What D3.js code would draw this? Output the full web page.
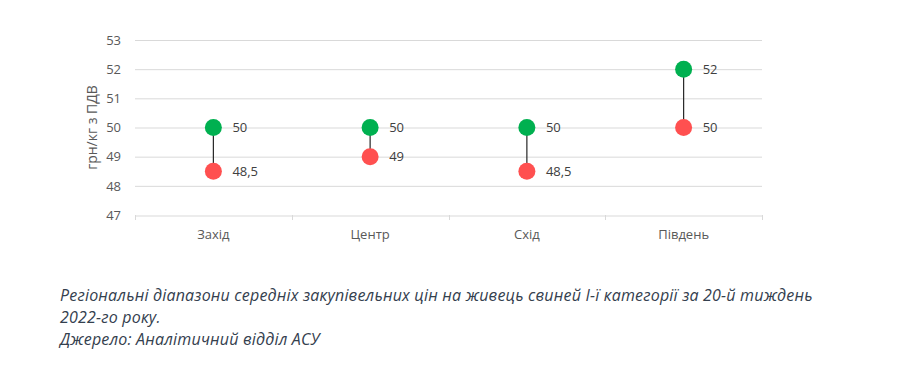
<!DOCTYPE html>
<html>
<head>
<meta charset="utf-8">
<script src="https://cdn.jsdelivr.net/npm/d3@7"></script>
<style>
  body { margin: 0; background: #fff; }
  .caption { position: absolute; left: 60px; top: 284px; font-family: "Open Sans", sans-serif;
    font-style: italic; font-size: 16px; letter-spacing: 0.2px; line-height: 22px; color: #34404e; white-space: nowrap; }
</style>
</head>
<body>
<div id="chart"></div>
<div class="caption">Регіональні діапазони середніх закупівельних цін на живець свиней І-ї категорії за 20-й тиждень<br>2022-го року.<br>Джерело: Аналітичний відділ АСУ</div>
<script>
var regions = ['Захід', 'Центр', 'Схід', 'Південь'];
var maxPrice = [50, 50, 50, 52];
var minPrice = [48.5, 49, 48.5, 50];
var yTicks = [47, 48, 49, 50, 51, 52, 53];

var svg = d3.select('#chart').append('svg')
    .attr('width', 897).attr('height', 280)
    .style('font-family', '"Segoe UI", "Open Sans", sans-serif');

var x = d3.scaleBand().domain(regions).range([135, 762]);
var y = d3.scaleLinear().domain([47, 53]).range([215, 40]);

function fmt (v) { return String(v).replace('.', ','); }

// gridlines
svg.selectAll('line.grid').data(yTicks.slice(1)).enter().append('line')
    .attr('x1', 135).attr('x2', 762)
    .attr('y1', function (d) { return y(d) + 0.5; })
    .attr('y2', function (d) { return y(d) + 0.5; })
    .attr('stroke', '#d9d9d9').attr('stroke-width', 1);

// y axis labels
var yAxis = svg.append('g').attr('transform', 'translate(129,0)')
    .call(d3.axisLeft(y).tickValues(yTicks).tickFormat(d3.format('d')).tickSize(0).tickPadding(8));
yAxis.select('.domain').remove();
yAxis.selectAll('text').attr('fill', '#595959').attr('font-size', 13)
    .style('font-family', '"Segoe UI", "Open Sans", sans-serif');

// x axis
var xAxis = svg.append('g').attr('transform', 'translate(0,' + (y(47) + 0.5) + ')')
    .call(d3.axisBottom(x).tickSize(0).tickPadding(14));
xAxis.select('.domain').attr('stroke', '#d9d9d9');
xAxis.selectAll('text').attr('fill', '#595959').attr('font-size', 13)
    .style('font-family', '"Segoe UI", "Open Sans", sans-serif');
var bounds = regions.map(function (r) { return x(r); }).concat([x.range()[1]]);
svg.selectAll('line.xtick').data(bounds).enter().append('line')
    .attr('x1', function (d) { return Math.round(d) + 0.5; })
    .attr('x2', function (d) { return Math.round(d) + 0.5; })
    .attr('y1', y(47)).attr('y2', y(47) + 5)
    .attr('stroke', '#d9d9d9');

// y title
svg.append('text')
    .attr('transform', 'translate(97,' + y(50) + ') rotate(-90)')
    .attr('text-anchor', 'middle')
    .attr('fill', '#595959').attr('font-size', 14)
    .text('грн/кг з ПДВ');

// connectors
var cx = function (i) { return x(regions[i]) + x.bandwidth() / 2; };
regions.forEach(function (r, i) {
    svg.append('line')
        .attr('x1', cx(i)).attr('x2', cx(i))
        .attr('y1', y(maxPrice[i])).attr('y2', y(minPrice[i]))
        .attr('stroke', '#262626').attr('stroke-width', 1.2);
});

function dots (vals, color) {
    svg.selectAll(null).data(vals).enter().append('circle')
        .attr('cx', function (d, i) { return cx(i); })
        .attr('cy', function (d) { return y(d); })
        .attr('r', 8.5).attr('fill', color);
    svg.selectAll(null).data(vals).enter().append('text')
        .attr('x', function (d, i) { return cx(i) + 19; })
        .attr('y', function (d) { return y(d); })
        .attr('dy', '0.35em')
        .attr('fill', '#404040').attr('font-size', 13)
        .text(fmt);
}
dots(minPrice, '#ff5050');
dots(maxPrice, '#00b050');
</script>
</body>
</html>
